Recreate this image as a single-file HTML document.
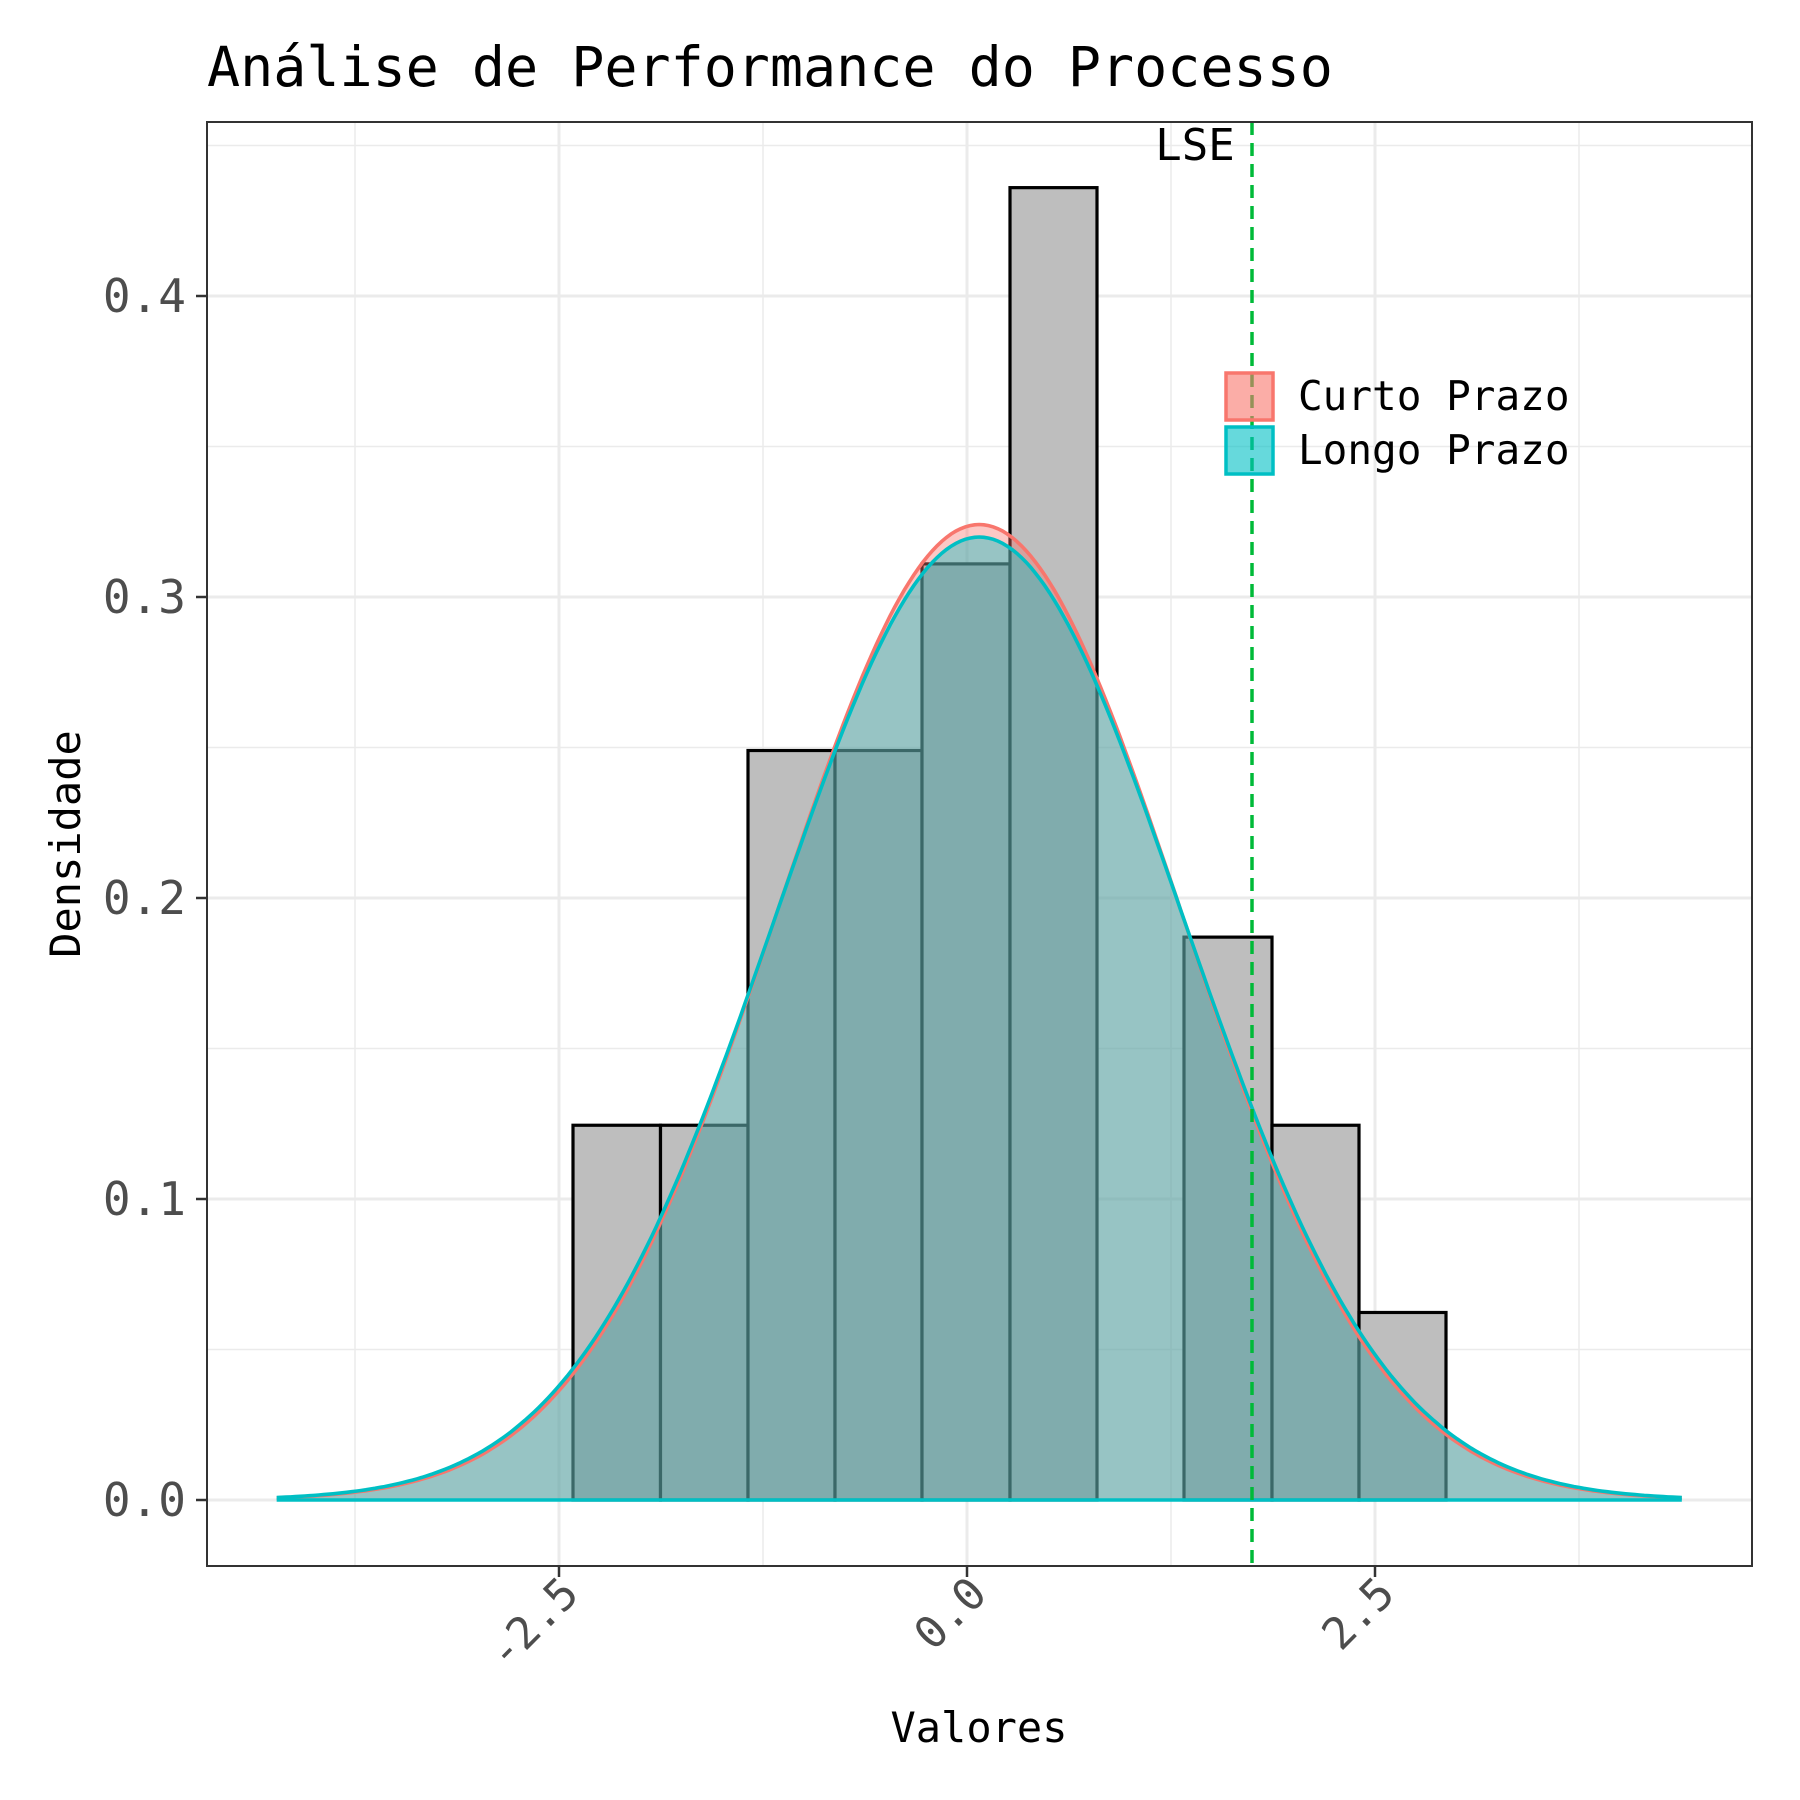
<!DOCTYPE html>
<html><head><meta charset="utf-8"><style>body{margin:0;background:#fff}svg{display:block}</style></head>
<body>
<svg id="s" width="1800" height="1800" xmlns="http://www.w3.org/2000/svg" font-family="'DejaVu Sans Mono','Liberation Mono',monospace">
<rect width="1800" height="1800" fill="#fff"/>
<g id="grid"></g>
<g id="hist"></g>
<g id="dens"></g>
<line x1="1252" y1="122" x2="1252" y2="1566" stroke="#00BA38" stroke-width="3.5" stroke-dasharray="13,8"/>
<text x="1195" y="160" font-size="44" text-anchor="middle" fill="#000">LSE</text>
<rect x="207" y="122" width="1545" height="1444" fill="none" stroke="#333" stroke-width="2"/>
<g id="ticks"></g>
<text x="207" y="86" font-size="55" fill="#000">Análise de Performance do Processo</text>
<text x="979" y="1742" font-size="42" text-anchor="middle" fill="#000">Valores</text>
<text transform="translate(80,844) rotate(-90)" font-size="42" text-anchor="middle" fill="#000">Densidade</text>
<rect x="1226" y="373" width="47" height="47" fill="#F8766D" fill-opacity="0.6" stroke="#F8766D" stroke-width="3.5"/>
<rect x="1226" y="427" width="47" height="47" fill="#00BFC4" fill-opacity="0.6" stroke="#00BFC4" stroke-width="3.5"/>
<text x="1298" y="410" font-size="41" fill="#000">Curto Prazo</text>
<text x="1298" y="464" font-size="41" fill="#000">Longo Prazo</text>
</svg>
<script>
var NS="http://www.w3.org/2000/svg";
function el(p,t,a,txt){var e=document.createElementNS(NS,t);for(var k in a)e.setAttribute(k,a[k]);if(txt!=null)e.textContent=txt;document.getElementById(p).appendChild(e);return e;}
var X=function(v){return 967+v*163.2}, Y=function(v){return 1500-v*3010};
var L=207,R=1752,T=122,B=1566;
[-3.75,-1.25,1.25,3.75].forEach(function(v){el("grid","line",{x1:X(v),x2:X(v),y1:T,y2:B,stroke:"#ebebeb","stroke-width":1.5});});
[0.05,0.15,0.25,0.35,0.45].forEach(function(v){el("grid","line",{x1:L,x2:R,y1:Y(v),y2:Y(v),stroke:"#ebebeb","stroke-width":1.5});});
[-2.5,0,2.5].forEach(function(v){el("grid","line",{x1:X(v),x2:X(v),y1:T,y2:B,stroke:"#ebebeb","stroke-width":3});});
[0,0.1,0.2,0.3,0.4].forEach(function(v){el("grid","line",{x1:L,x2:R,y1:Y(v),y2:Y(v),stroke:"#ebebeb","stroke-width":3});});
var edges=[573,660.5,748,835,922,1010,1097,1184,1272,1359,1446];
var h=[0.1245,0.1245,0.249,0.249,0.311,0.436,0,0.187,0.1245,0.0623];
for(var i=0;i<10;i++){var y=Y(h[i]);el("hist","rect",{x:edges[i],y:y,width:edges[i+1]-edges[i],height:1500-y,fill:"#bebebe",stroke:"#000","stroke-width":3.2});}
function curve(m,sd,col){var a=-4.23,b=4.38,n=300,pts=[];for(var i=0;i<=n;i++){var x=a+(b-a)*i/n;var f=Math.exp(-0.5*Math.pow((x-m)/sd,2))/(sd*Math.sqrt(2*Math.PI));pts.push(X(x).toFixed(1)+","+Y(f).toFixed(1));}
el("dens","path",{d:"M"+X(a)+",1500 L"+pts.join(" L")+" L"+X(b)+",1500 Z",fill:col,"fill-opacity":0.4,stroke:"none"});
return "M"+pts.join(" L");}
var p1=curve(0.075,1.231,"#F8766D"),p2=curve(0.075,1.247,"#00BFC4");
el("dens","path",{d:p1,fill:"none",stroke:"#F8766D","stroke-width":3.6});
el("dens","path",{d:p2,fill:"none",stroke:"#00BFC4","stroke-width":3.6});
el("dens","line",{x1:X(-4.23),x2:X(4.38),y1:1500,y2:1500,stroke:"#00BFC4","stroke-width":3.6});
[0,0.1,0.2,0.3,0.4].forEach(function(v){el("ticks","line",{x1:196,x2:207,y1:Y(v),y2:Y(v),stroke:"#333","stroke-width":2.5});
el("ticks","text",{x:186,y:Y(v)+16,"font-size":46,"text-anchor":"end",fill:"#4d4d4d"},v.toFixed(1));});
[-2.5,0,2.5].forEach(function(v){var x=X(v);el("ticks","line",{x1:x,x2:x,y1:B,y2:B+11,stroke:"#333","stroke-width":2.5});
el("ticks","text",{transform:"translate("+(x+22)+",1596) rotate(-45)","font-size":44,"text-anchor":"end",fill:"#4d4d4d"},v.toFixed(1));});
</script>
</body></html>
